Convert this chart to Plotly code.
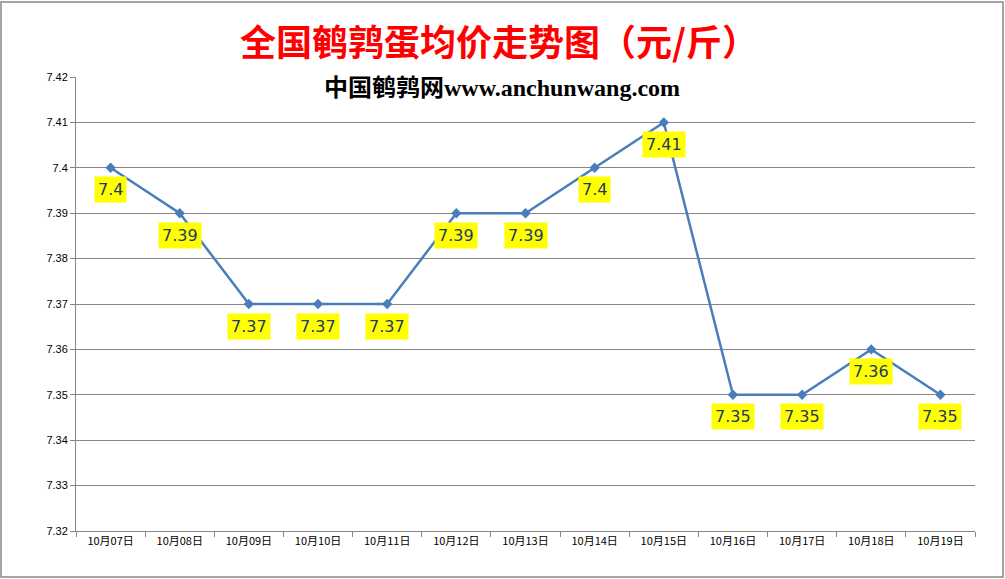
import plotly.graph_objects as go

# 日期与价格
dates = ["10月07日", "10月08日", "10月09日", "10月10日", "10月11日", "10月12日", "10月13日",
         "10月14日", "10月15日", "10月16日", "10月17日", "10月18日", "10月19日"]
prices = [7.40, 7.39, 7.37, 7.37, 7.37, 7.39, 7.39, 7.40, 7.41, 7.35, 7.35, 7.36, 7.35]
labels = ["7.4", "7.39", "7.37", "7.37", "7.37", "7.39", "7.39", "7.4", "7.41", "7.35", "7.35", "7.36", "7.35"]
y_ticks = [7.32, 7.33, 7.34, 7.35, 7.36, 7.37, 7.38, 7.39, 7.40, 7.41, 7.42]
y_tick_text = ["7.32", "7.33", "7.34", "7.35", "7.36", "7.37", "7.38", "7.39", "7.4", "7.41", "7.42"]

fig = go.Figure()

fig.add_trace(go.Scatter(
    x=dates, y=prices,
    mode='lines+markers',
    line=dict(color='#4a7ebb', width=2.5),
    marker=dict(symbol='diamond', size=8, color='#4a7ebb'),
    showlegend=False,
    hoverinfo='x+y'
))

# 数据标签（黄色底）
for d, p, t in zip(dates, prices, labels):
    fig.add_annotation(
        x=d, y=p, text=t, showarrow=False,
        yshift=-22,
        bgcolor='#ffff00',
        borderpad=3,
        font=dict(family='DejaVu Sans, Arial', size=16, color='#1f3864')
    )

fig.add_annotation(
    xref='paper', yref='paper', x=0.4705, y=1.0815, yanchor='middle',
    text='<b>全国鹌鹑蛋均价走势图（元/斤）</b>', showarrow=False,
    font=dict(family='Noto Sans CJK SC', size=36, color='#ff0000')
)
fig.add_annotation(
    xref='paper', yref='paper', x=0.474, y=0.982, yanchor='middle',
    text='<b><span style="font-family:Noto Sans CJK SC">中国鹌鹑网</span>www.anchunwang.com</b>',
    showarrow=False,
    font=dict(family='Liberation Serif, Times New Roman', size=24, color='#000000')
)

# 外框
fig.add_shape(type='rect', xref='paper', yref='paper',
              x0=-0.0834, x1=1.0311, y0=-0.1013, y1=1.1652,
              line=dict(color='#868686', width=1.5))

fig.update_layout(
    width=1005, height=579,
    margin=dict(l=76, r=30, t=77, b=48),
    paper_bgcolor='white', plot_bgcolor='white',
    xaxis=dict(
        type='category', range=[-0.5, 12.5], tickson='boundaries', ticks='outside', ticklen=5,
        tickcolor='#868686', showline=True, linecolor='#868686',
        showgrid=False, tickfont=dict(family='Noto Sans CJK SC', size=11, color='#000000')
    ),
    yaxis=dict(
        range=[7.32, 7.42], tickvals=y_ticks, ticktext=y_tick_text,
        ticks='outside', ticklen=5, tickcolor='#868686',
        showline=True, linecolor='#868686', gridcolor='#868686', gridwidth=1,
        zeroline=False, tickfont=dict(family='Liberation Sans, Arial', size=11, color='#000000')
    )
)

fig.write_html("out.html", config={'displayModeBar': False},
               post_script="document.body.style.margin='0';")
